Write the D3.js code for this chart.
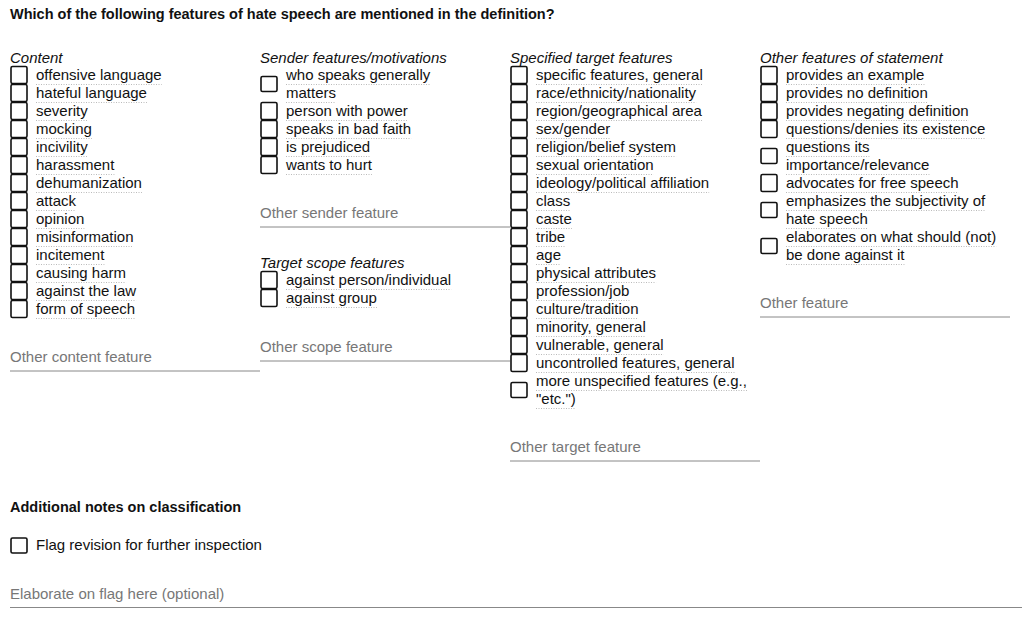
<!DOCTYPE html>
<html><head><meta charset="utf-8">
<script src="https://cdn.jsdelivr.net/npm/d3@7"></script>
<style>body{margin:0;background:#fff}svg{font-family:"Liberation Sans",Arial,sans-serif}</style>
</head><body><svg id="c" width="1022" height="618"></svg>
<script>
const title = "Which of the following features of hate speech are mentioned in the definition?";
const contentItems = [["offensive language"],["hateful language"],["severity"],["mocking"],["incivility"],["harassment"],["dehumanization"],["attack"],["opinion"],["misinformation"],["incitement"],["causing harm"],["against the law"],["form of speech"]];
const senderItems = [["who speaks generally","matters"],["person with power"],["speaks in bad faith"],["is prejudiced"],["wants to hurt"]];
const scopeItems = [["against person/individual"],["against group"]];
const targetItems = [["specific features, general"],["race/ethnicity/nationality"],["region/geographical area"],["sex/gender"],["religion/belief system"],["sexual orientation"],["ideology/political affiliation"],["class"],["caste"],["tribe"],["age"],["physical attributes"],["profession/job"],["culture/tradition"],["minority, general"],["vulnerable, general"],["uncontrolled features, general"],["more unspecified features (e.g.,","\"etc.\")"]];
const otherItems = [["provides an example"],["provides no definition"],["provides negating definition"],["questions/denies its existence"],["questions its","importance/relevance"],["advocates for free speech"],["emphasizes the subjectivity of","hate speech"],["elaborates on what should (not)","be done against it"]];
const groups = [
  {col:0, top:58, header:"Content", items:contentItems, other:"Other content feature", otherY:357},
  {col:1, top:58, header:"Sender features/motivations", items:senderItems, other:"Other sender feature", otherY:213},
  {col:1, top:263, header:"Target scope features", items:scopeItems, other:"Other scope feature", otherY:347},
  {col:2, top:58, header:"Specified target features", items:targetItems, other:"Other target feature", otherY:447},
  {col:3, top:58, header:"Other features of statement", items:otherItems, other:"Other feature", otherY:303}
];
const svg = d3.select("#c");
const colX = d3.scaleLinear().domain([0,1]).range([10,260]);
const LH = 18;
svg.append("text").attr("x",10).attr("y",19).attr("font-size",14.5).attr("font-weight","bold").attr("fill","#111").text(title);
groups.forEach(g=>{
  const x = colX(g.col);
  svg.append("text").attr("x",x).attr("y",g.top+5).attr("font-size",15).attr("font-style","italic").attr("fill","#111").text(g.header);
  let line = 0;
  g.items.forEach(it=>{
    const cy0 = g.top+17+line*LH;
    const n = it.length;
    const cy = cy0 + (n-1)*LH/2;
    const h = n>1?15:17;
    svg.append("rect").attr("x",x+1).attr("y",cy-h/2).attr("width",16).attr("height",h).attr("rx",1.5)
      .attr("fill","#fff").attr("stroke","#111").attr("stroke-width",1.6);
    it.forEach((t,i)=>{
      const ty = cy0+i*LH;
      const tx = svg.append("text").attr("x",x+26).attr("y",ty+5).attr("font-size",15).attr("fill","#111").text(t);
      const w = tx.node().getComputedTextLength();
      svg.append("line").attr("x1",x+26).attr("x2",x+26+w).attr("y1",ty+9.5).attr("y2",ty+9.5)
        .attr("stroke","#aaa").attr("stroke-width",0.8).attr("stroke-dasharray","1,1.5");
    });
    line += n;
  });
  svg.append("text").attr("x",x).attr("y",g.otherY+5).attr("font-size",15).attr("fill","#777").text(g.other);
  svg.append("line").attr("x1",x).attr("x2",x+250).attr("y1",g.otherY+14).attr("y2",g.otherY+14).attr("stroke","#888").attr("stroke-width",1);
});
svg.append("text").attr("x",10).attr("y",512).attr("font-size",14.5).attr("font-weight","bold").attr("fill","#111").text("Additional notes on classification");
svg.append("rect").attr("x",11).attr("y",538).attr("width",16).attr("height",15).attr("rx",1.5).attr("fill","#fff").attr("stroke","#111").attr("stroke-width",1.6);
svg.append("text").attr("x",36).attr("y",550).attr("font-size",15).attr("fill","#111").text("Flag revision for further inspection");
svg.append("text").attr("x",10).attr("y",599).attr("font-size",15).attr("fill","#777").text("Elaborate on flag here (optional)");
svg.append("line").attr("x1",10).attr("x2",1022).attr("y1",607.5).attr("y2",607.5).attr("stroke","#888").attr("stroke-width",1);
</script></body></html>
